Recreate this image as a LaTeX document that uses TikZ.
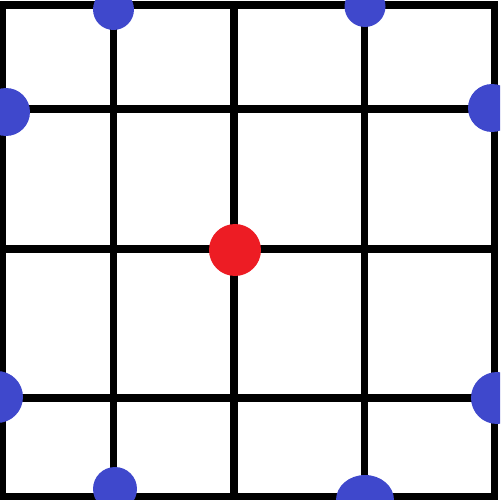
\documentclass[tikz,border=0pt]{standalone}
\usetikzlibrary{shapes.geometric}
\definecolor{dotblue}{HTML}{3F48CC}
\definecolor{dotred}{HTML}{ED1C24}
\tikzset{
  gridline/.style={line width=0.15cm, black},
  bluedot/.style={circle, fill=dotblue, inner sep=0pt, draw=none},
  reddot/.style={circle, fill=dotred, inner sep=0pt, draw=none},
  blueoval/.style={ellipse, fill=dotblue, inner sep=0pt, draw=none}
}
\begin{document}
\begin{tikzpicture}[x=0.02cm, y=-0.02cm]
\useasboundingbox (0,0) rectangle (500,500);
\clip (0,0) rectangle (500,500);
% grid
\draw[gridline] (2.5,5) rectangle (494.5,497);
\foreach \xx in {113.5,234,364.5} \draw[gridline] (\xx,5) -- (\xx,497);
\foreach \yy in {109,249,398} \draw[gridline] (2.5,\yy) -- (494.5,\yy);
% dots
\node[bluedot, minimum size=0.82cm] (t1) at (113.5,9.5) {};
\node[bluedot, minimum size=0.82cm] (t2) at (365,6.5) {};
\node[bluedot, minimum size=0.96cm] (l1) at (6,112) {};
\node[bluedot, minimum size=0.96cm] (r1) at (492,108) {};
\node[bluedot, minimum size=1.04cm] (l2) at (-3,397) {};
\node[bluedot, minimum size=1.04cm] (r2) at (497,398) {};
\node[bluedot, minimum size=0.88cm] (b1) at (115,489) {};
\node[blueoval, minimum width=1.16cm, minimum height=1.0cm] (b2) at (365,500) {};
\node[reddot, minimum size=1.04cm] (c) at (235,250) {};
\end{tikzpicture}
\end{document}
